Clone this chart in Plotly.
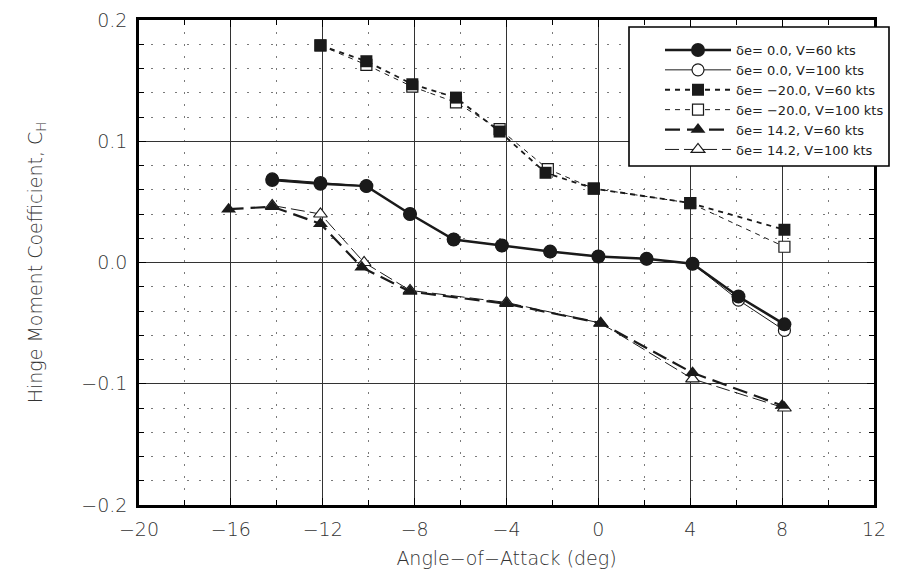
import plotly.graph_objects as go

# ---- data ----
aoa_d0_v60 = [-14.2, -12.1, -10.1, -8.2, -6.3, -4.2, -2.1, 0.0, 2.1, 4.1, 6.1, 8.1]
ch_d0_v60 = [0.068, 0.065, 0.063, 0.040, 0.019, 0.014, 0.009, 0.005, 0.003, -0.001, -0.028, -0.051]

aoa_d0_v100 = [-14.2, -12.1, -10.1, -8.2, -6.3, -4.2, -2.1, 0.0, 2.1, 4.1, 6.1, 8.1]
ch_d0_v100 = [0.069, 0.066, 0.063, 0.040, 0.019, 0.014, 0.009, 0.005, 0.003, -0.001, -0.031, -0.056]

aoa_dm20_v60 = [-12.1, -10.1, -8.1, -6.2, -4.3, -2.3, -0.2, 4.0, 8.1]
ch_dm20_v60 = [0.179, 0.166, 0.147, 0.136, 0.108, 0.074, 0.061, 0.049, 0.027]

aoa_dm20_v100 = [-12.1, -10.1, -8.1, -6.2, -4.3, -2.2, -0.2, 4.0, 8.1]
ch_dm20_v100 = [0.179, 0.163, 0.145, 0.132, 0.110, 0.077, 0.061, 0.049, 0.013]

aoa_d14_v60 = [-16.1, -14.2, -12.1, -10.3, -8.2, -4.0, 0.1, 4.1, 8.0]
ch_d14_v60 = [0.044, 0.046, 0.032, -0.004, -0.024, -0.034, -0.050, -0.091, -0.118]

aoa_d14_v100 = [-14.2, -12.1, -10.2, -8.2, -4.0, 0.1, 4.1, 8.1]
ch_d14_v100 = [0.047, 0.040, 0.000, -0.023, -0.033, -0.050, -0.096, -0.120]

names = [
    "δe= 0.0, V=60 kts",
    "δe= 0.0, V=100 kts",
    "δe= \u221220.0, V=60 kts",
    "δe= \u221220.0, V=100 kts",
    "δe= 14.2, V=60 kts",
    "δe= 14.2, V=100 kts",
]

x_tickvals = [-20, -16, -12, -8, -4, 0, 4, 8, 12]
x_ticktext = ["\u221220", "\u221216", "\u221212", "\u22128", "\u22124", "0", "4", "8", "12"]
y_tickvals = [-0.2, -0.1, 0.0, 0.1, 0.2]
y_ticktext = ["\u22120.2", "\u22120.1", "0.0", "0.1", "0.2"]

FONT = "DejaVu Sans"
INK = "#1a1a1a"

fig = go.Figure()

# open-marker (V=100) traces are drawn first so filled markers sit on top
fig.add_trace(go.Scatter(
    x=aoa_d0_v100, y=ch_d0_v100, name=names[1], mode="lines+markers", legendrank=2,
    line=dict(color=INK, width=1),
    marker=dict(symbol="circle", size=12, color="white", line=dict(color=INK, width=1.2))))
fig.add_trace(go.Scatter(
    x=aoa_dm20_v100, y=ch_dm20_v100, name=names[3], mode="lines+markers", legendrank=4,
    line=dict(color=INK, width=1, dash="5px,5px"),
    marker=dict(symbol="square", size=11, color="white", line=dict(color=INK, width=1.2))))
fig.add_trace(go.Scatter(
    x=aoa_d14_v100, y=ch_d14_v100, name=names[5], mode="lines+markers", legendrank=6,
    line=dict(color=INK, width=1, dash="14px,5px"),
    marker=dict(symbol="triangle-up", size=12, color="white", line=dict(color=INK, width=1.2))))

fig.add_trace(go.Scatter(
    x=aoa_d0_v60, y=ch_d0_v60, name=names[0], mode="lines+markers", legendrank=1,
    line=dict(color=INK, width=2.5),
    marker=dict(symbol="circle", size=14, color=INK)))
fig.add_trace(go.Scatter(
    x=aoa_dm20_v60, y=ch_dm20_v60, name=names[2], mode="lines+markers", legendrank=3,
    line=dict(color=INK, width=1.8, dash="5px,5px"),
    marker=dict(symbol="square", size=12, color=INK)))
fig.add_trace(go.Scatter(
    x=aoa_d14_v60, y=ch_d14_v60, name=names[4], mode="lines+markers", legendrank=5,
    line=dict(color=INK, width=2.2, dash="15px,7px"),
    marker=dict(symbol="triangle-up", size=13, color=INK)))

axis_common = dict(
    showline=True, linewidth=2.5, linecolor="black", mirror="allticks",
    ticks="inside", ticklen=7, tickwidth=1, tickcolor="black",
    showgrid=True, gridcolor="#333333", gridwidth=1,
    zeroline=False, automargin=False,
    tickfont=dict(family=FONT, size=19, color="#333333", weight=300),
    ticklabelstandoff=5,
)

fig.update_xaxes(
    range=[-20, 12], tickmode="array", tickvals=x_tickvals, ticktext=x_ticktext,
    minor=dict(dtick=2, ticks="inside", ticklen=5, tickcolor="black",
               showgrid=True, gridcolor="#7a7a7a", griddash="2px,10px", gridwidth=1),
    title=dict(text="Angle\u2212of\u2212Attack (deg)", standoff=14,
               font=dict(family=FONT, size=19, color="#333333", weight=300)),
    **axis_common)
fig.update_yaxes(
    range=[-0.2, 0.2], tickmode="array", tickvals=y_tickvals, ticktext=y_ticktext,
    minor=dict(dtick=0.02, ticks="inside", ticklen=5, tickcolor="black",
               showgrid=True, gridcolor="#7a7a7a", griddash="2px,10px", gridwidth=1),
    title=dict(text="Hinge Moment Coefficient, C<sub>H</sub>", standoff=34,
               font=dict(family=FONT, size=19, color="#333333", weight=300)),
    **axis_common)

# page is drawn with an 8px body offset; compensate so the plot area lands at
# x 139..874, y 20..505 in the 902x582 window
OFF = 8
L, R, T, B = 139 - OFF, 874 - OFF, 20 - OFF, 505 - OFF
pw, ph = R - L, B - T

# legend frame (white box covering the grid)
fig.add_shape(type="rect", xref="paper", yref="paper", layer="above",
              x0=(629 - OFF - L) / pw, x1=(889 - OFF - L) / pw,
              y0=(B - (166 - OFF)) / ph, y1=(B - (27 - OFF)) / ph,
              fillcolor="white", line=dict(color="black", width=1.6))

fig.update_layout(
    width=902, height=582,
    margin=dict(l=L, r=902 - R, t=T, b=582 - B, autoexpand=False),
    paper_bgcolor="white", plot_bgcolor="white",
    showlegend=True,
    legend=dict(
        x=(660 - OFF - L) / pw, xanchor="left",
        y=(B - (100 - OFF)) / ph, yanchor="middle",
        bgcolor="rgba(0,0,0,0)", borderwidth=0,
        itemwidth=66,
        font=dict(family=FONT, size=13, color="#222222"),
        traceorder="normal",
    ),
)

fig.write_html("out.html")
